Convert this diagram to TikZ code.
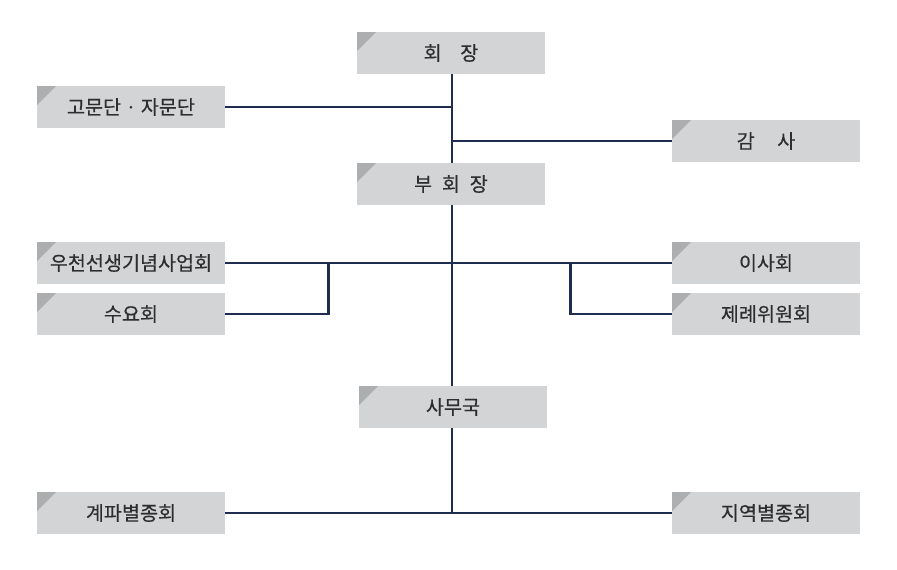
\documentclass[tikz,border=0pt]{standalone}
\usepackage{fontspec}
\newfontfamily\kr[FakeBold=0.4]{Noto Sans CJK KR}
\usetikzlibrary{positioning,calc}

\definecolor{boxgray}{HTML}{D3D4D6}
\definecolor{tabgray}{HTML}{ADAEB0}
\definecolor{linenavy}{HTML}{1E2D50}
\definecolor{txtgray}{HTML}{2E2E2E}

\begin{document}
\begin{tikzpicture}[
  x=1pt, y=-1pt,
  org/.style={
    rectangle, fill=boxgray, inner sep=0pt,
    minimum width=188pt, minimum height=42pt,
    text=txtgray, font=\kr\fontsize{19.6}{21}\selectfont,
    path picture={\fill[tabgray] (path picture bounding box.north west)
      -- ++(19pt,0pt) -- ++(-19pt,-19pt) -- cycle;}
  },
  lnk/.style={draw=linenavy, line width=2.7pt},
]
\useasboundingbox (0,0) rectangle (897,570);

\node[org] (hoe)      at (451,53)  {회\hspace{0.95em}장};
\node[org] (gomun)    at (131,107) {고문단 · 자문단};
\node[org] (gamsa)    at (766,141) {감\hspace{1.15em}사};
\node[org] (buhoe)    at (451,184) {부\hspace{0.5em}회\hspace{0.5em}장};
\node[org] (woocheon) at (131,263) {우천선생기념사업회};
\node[org] (suyo)     at (131,314) {수요회};
\node[org] (isa)      at (766,263) {이사회};
\node[org] (jerye)    at (766,314) {제례위원회};
\node[org] (samu)     at (453,407) {사무국};
\node[org] (gyepa)    at (131,513) {계파별종회};
\node[org] (jiyeok)   at (766,513) {지역별종회};

%% trunk
\draw[lnk] ([xshift=1pt]hoe.south) -- ([xshift=1pt]buhoe.north);
\draw[lnk] ([xshift=1pt]buhoe.south) -- ([xshift=1pt]buhoe.south |- samu.north);
\draw[lnk] ([xshift=-1pt]samu.south) -- ([xshift=-1pt]samu.south |- gyepa.east);

%% side branches
\draw[lnk] (gomun.east) -- ([xshift=1pt]gomun.east -| hoe.south);
\draw[lnk] (gamsa.west) -- ([xshift=1pt]gamsa.west -| hoe.south);
\draw[lnk] (woocheon.east) -- (isa.west);
\draw[lnk] (suyo.east) -| ([xshift=103pt]woocheon.east);
\draw[lnk] (jerye.west) -| ([xshift=-101pt]isa.west);
\draw[lnk] (gyepa.east) -- (jiyeok.west);
\end{tikzpicture}
\end{document}
